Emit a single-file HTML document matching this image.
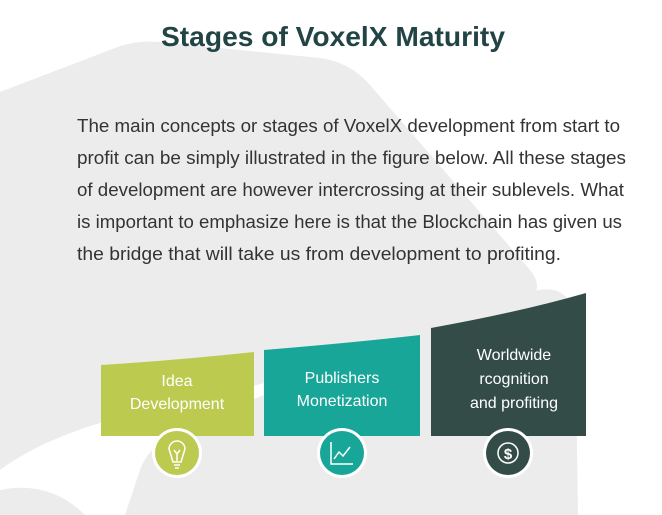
<!DOCTYPE html>
<html><head><meta charset="utf-8"><style>
html,body{margin:0;padding:0;background:#fff;}
svg{display:block;}
text{font-family:"Liberation Sans",sans-serif;}
</style></head><body>
<svg width="662" height="515" viewBox="0 0 662 515" xmlns="http://www.w3.org/2000/svg">
<path d="M0 92 L115 48 Q135 40 160 42 L320 58 Q350 62 370 85 L530 270 Q548 292 520 305 Q300 380 110 420 Q40 440 0 470 Z" fill="#ececec"/>
<path d="M125 515 L140 470 Q150 440 200 420 L530 292 Q570 280 575 320 L578 515 Z" fill="#ececec"/>
<path d="M0 490 Q50 480 85 515 L0 515 Z" fill="#ececec"/>
<text x="333" y="46" text-anchor="middle" font-size="28" font-weight="bold" fill="#234445" textLength="344" lengthAdjust="spacingAndGlyphs">Stages of VoxelX Maturity</text>
<g font-size="18" fill="#333">
<text x="77" y="132" textLength="543" lengthAdjust="spacingAndGlyphs">The main concepts or stages of VoxelX development from start to</text>
<text x="77" y="164" textLength="549" lengthAdjust="spacingAndGlyphs">profit can be simply illustrated in the figure below. All these stages</text>
<text x="77" y="196" textLength="547" lengthAdjust="spacingAndGlyphs">of development are however intercrossing at their sublevels. What</text>
<text x="77" y="228" textLength="545" lengthAdjust="spacingAndGlyphs">is important to emphasize here is that the Blockchain has given us</text>
<text x="77" y="260" textLength="484" lengthAdjust="spacingAndGlyphs">the bridge that will take us from development to profiting.</text>
</g>
<path d="M101 365 Q180 360 254 352 L254 436 L101 436 Z" fill="#bccb4f"/>
<path d="M264 350 Q350 343 420 335 L420 436 L264 436 Z" fill="#17a698"/>
<path d="M431 328 Q520 312 586 293 L586 436 L431 436 Z" fill="#344c47"/>
<g font-size="16" fill="#fff" text-anchor="middle">
<text x="177" y="386">Idea</text>
<text x="177" y="409">Development</text>
<text x="342" y="383">Publishers</text>
<text x="342" y="406">Monetization</text>
<text x="514" y="360">Worldwide</text>
<text x="514" y="384">rcognition</text>
<text x="514" y="408">and profiting</text>
</g>
<circle cx="177" cy="453" r="25" fill="#fff"/>
<circle cx="177" cy="453" r="22" fill="#bccb4f"/>
<circle cx="342" cy="453" r="25" fill="#fff"/>
<circle cx="342" cy="453" r="22" fill="#17a698"/>
<circle cx="508" cy="453" r="25" fill="#fff"/>
<circle cx="508" cy="453" r="22" fill="#344c47"/>
<g fill="none" stroke="#fff" stroke-width="1.5">
<path d="M173 462 Q170 452 169 449 A8 8 0 1 1 185 449 Q184 452 181 462 Z"/>
<path d="M174 465 L180 465 M175 468 L179 468"/>
<path d="M174 450 L177 454 L180 450 M177 454 L177 461"/>
<path d="M331 442 L331 464 L353 464"/>
<path d="M334 459 L339 452 L343 456 L350 447"/>
<circle cx="508" cy="453" r="10"/>
</g>
<text x="508" y="459" text-anchor="middle" font-size="15" font-weight="bold" fill="#fff">$</text>
</svg>
</body></html>
